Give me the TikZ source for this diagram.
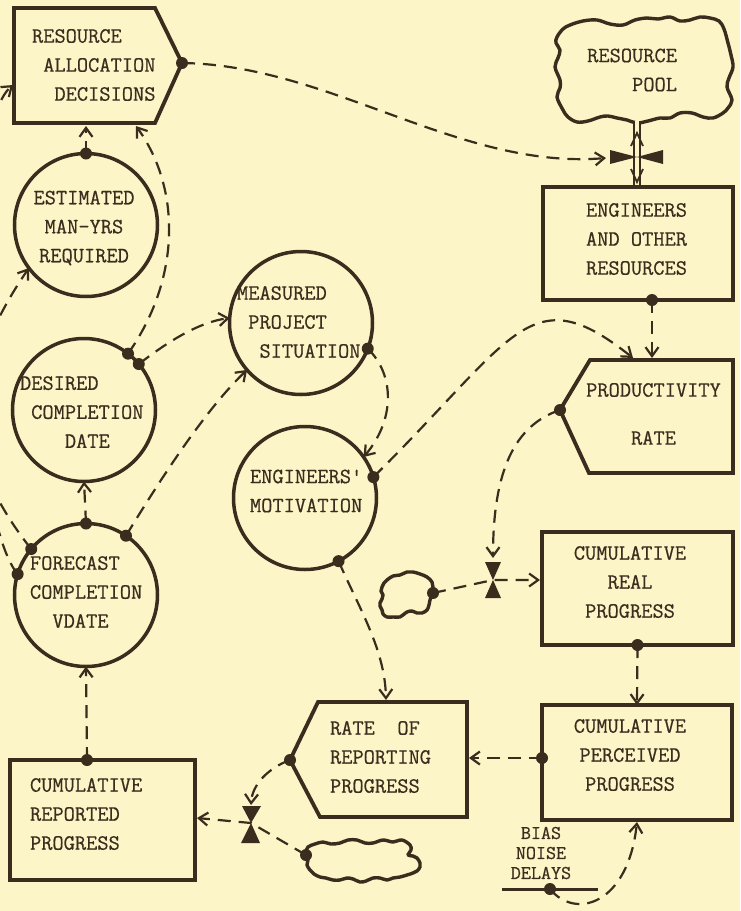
\documentclass[tikz,border=0pt]{standalone}
\usepackage{fontspec}
\newfontfamily\typew{Latin Modern Mono}[FakeBold=0.6]
\usetikzlibrary{arrows.meta,shapes.geometric}
\definecolor{bgc}{RGB}{252,245,199}
\definecolor{ink}{RGB}{58,45,30}
\tikzset{
  box/.style={draw=ink,line width=3.8pt,rectangle,inner sep=0pt,outer sep=0pt},
  circ/.style={draw=ink,line width=3.5pt,circle,minimum size=143pt,inner sep=0pt,outer sep=0pt},
  shapeline/.style={draw=ink,line width=3.8pt,line join=miter},
  lbl/.style={text=ink,inner sep=0pt,outer sep=0pt,font=\typew\fontsize{21.8}{29}\selectfont},
  link/.style={draw=ink,line width=2.2pt,dash pattern=on 13pt off 8pt,-{Straight Barb[length=9pt,width=13pt]}},
  cloudline/.style={draw=ink,line width=3.4pt,line join=round},
  pipe/.style={draw=ink,line width=2pt,double=bgc,double distance=4pt},
  barb/.style={draw=ink,line width=1.8pt},
}
\begin{document}
\begin{tikzpicture}[x=1pt,y=-1pt]
\useasboundingbox (0,0) rectangle (740,911);
\fill[bgc] (0,0) rectangle (740,911);
\begin{scope}
\clip (0,0) rectangle (740,911);
% named points
\coordinate (raP) at (182,63);
\coordinate (raB1) at (86,126);
\coordinate (raB2) at (136,126);
\coordinate (raL) at (13,85);
\coordinate (v1) at (637,157);
\coordinate (v1L) at (606,158);
\coordinate (pipeT) at (637,121);
\coordinate (pipeB) at (637,185);
\coordinate (engD) at (652,300);
\coordinate (prodT1) at (633,358);
\coordinate (prodT2) at (652,358);
\coordinate (prodP) at (560,410);
\coordinate (v2) at (493,580);
\coordinate (v2T) at (493,558);
\coordinate (src2D) at (433,593);
\coordinate (crealL) at (540,580);
\coordinate (cpercD) at (542,758);
\coordinate (cpercB) at (637,822);
\coordinate (rateR) at (469,758);
\coordinate (rateT) at (386,700);
\coordinate (rateP) at (290,760);
\coordinate (v3) at (251,823);
\coordinate (v3T) at (251,805);
\coordinate (src3D) at (306,855);
\coordinate (crepR) at (197,818);
\coordinate (crepD) at (87,760);
\coordinate (biasD) at (550,889);

% clouds
\draw[cloudline] plot[smooth cycle,tension=0.6] coordinates {
  (570,25) (583,21) (597,20) (610,24) (623,25) (635,20) (647,18) (658,19) (670,17)
  (680,21) (690,20) (700,17) (710,18) (719,21) (724,29) (728,43) (731,55) (733,67)
  (729,78) (727,87) (732,100) (728,108) (723,113) (713,118) (703,117) (692,113)
  (680,113) (670,118) (660,118) (648,121) (637,123) (627,120) (617,118) (608,116)
  (600,117) (588,121) (577,122) (568,117) (563,110) (557,97) (560,88) (560,80)
  (555,67) (558,58) (560,50) (556,43) (557,37) (563,29)};
\draw[cloudline] plot[smooth cycle,tension=0.6] coordinates {
  (387,580) (393,576) (400,575) (407,572) (413,572) (420,574) (427,577) (432,582)
  (433,587) (432,594) (430,600) (429,605) (427,610) (422,613) (417,613) (412,611)
  (407,612) (403,615) (400,617) (393,617) (387,617) (383,614) (382,610) (380,606)
  (380,603) (382,599) (383,595) (381,591) (382,587) (384,583)};
\draw[cloudline] plot[smooth cycle,tension=0.6] coordinates {
  (308,847) (315,844) (323,842) (331,844) (340,843) (348,840) (357,840) (365,843)
  (373,843) (383,840) (393,842) (402,840) (410,845) (411,850) (408,855) (413,856)
  (417,858) (420,863) (420,867) (417,871) (413,873) (407,875) (400,877) (393,878)
  (387,880) (380,878) (373,878) (366,881) (360,882) (353,879) (347,878) (340,880)
  (333,880) (326,878) (320,877) (314,874) (310,870) (307,865) (308,860) (306,853)};

% boxes
\node[box,minimum width=190pt,minimum height=113pt] (eng) at (638,243.5) {};
\node[box,minimum width=191pt,minimum height=113pt] (creal) at (637.5,588.5) {};
\node[box,minimum width=190pt,minimum height=115pt] (cperc) at (637,762.5) {};
\node[box,minimum width=185pt,minimum height=120pt] (crep) at (102.5,820) {};

% pentagon shapes
\draw[shapeline] (14,8) -- (155,8) -- (raP) -- (155,123) -- (14,123) -- cycle;
\draw[shapeline] (590,360) -- (733,360) -- (733,473) -- (589,473) -- (prodP) -- cycle;
\draw[shapeline] (318,702) -- (467,702) -- (467,817) -- (320,817) -- (rateP) -- cycle;

% circles
\node[circ] (est) at (86,225) {};
\node[circ] (des) at (84,410) {};
\node[circ] (fc) at (86,595) {};
\node[circ] (mps) at (301,323) {};
\node[circ] (mot) at (305,498) {};

% texts
\node[lbl,anchor=west,align=left] (raT) at (32,65) {RESOURCE\\~ALLOCATION\\~~DECISIONS};
\node[lbl,anchor=east,align=right] (poolT) at (677,70) {RESOURCE\\POOL};
\node[lbl,align=center] (engT) at (636.5,239) {ENGINEERS\\AND OTHER\\RESOURCES};
\node[lbl,align=center] (prodT) at (653.5,414) {PRODUCTIVITY\\[19pt]RATE};
\node[lbl,align=center] (crealT) at (630,582) {CUMULATIVE\\REAL\\PROGRESS};
\node[lbl,align=center] (cpercT) at (630,755) {CUMULATIVE\\PERCEIVED\\PROGRESS};
\node[lbl,anchor=west,align=left] (rateTx) at (330,757) {RATE~~OF\\REPORTING\\PROGRESS};
\node[lbl,anchor=west,align=left] (crepT) at (30,814) {CUMULATIVE\\REPORTED\\PROGRESS};
\node[lbl,align=center,font=\typew\fontsize{19.5}{20}\selectfont] (biasT) at (541,853) {BIAS\\NOISE\\DELAYS};
\node[lbl,align=center] (estT) at (84,228) {ESTIMATED\\MAN-YRS\\REQUIRED};
\node[lbl,anchor=west,align=left] (desT) at (20,412) {DESIRED\\~COMPLETION\\~~~~DATE};
\node[lbl,anchor=west,align=left] (fcT) at (30,592) {FORECAST\\COMPLETION\\~~VDATE};
\node[lbl,anchor=west,align=left] (mpsT) at (237,322) {MEASURED\\~PROJECT\\~~SITUATION};
\node[lbl,anchor=west,align=left] (motT) at (250,491) {ENGINEERS\textquotesingle\\MOTIVATION};

% pipe and valves
\draw[pipe] (pipeT) -- (pipeB);
\fill[ink] (610,150) -- (v1) -- (610,164) -- cycle;
\fill[ink] (663,150) -- (v1) -- (663,164) -- cycle;
\draw[barb] (631,146) -- (637,133) -- (643,146);
\draw[barb] (631,169) -- (637,182) -- (643,169);
\fill[ink] (485,562) -- (501,562) -- (v2) -- cycle;
\fill[ink] (485,598) -- (501,598) -- (v2) -- cycle;
\fill[ink] (242,806) -- (261,806) -- (v3) -- cycle;
\fill[ink] (241,843) -- (260,843) -- (v3) -- cycle;
\draw[ink,line width=3pt] (502,889) -- (598,889);

% connectors
\draw[link] (raP) .. controls (330,65) and (460,170) .. (v1L);
\draw[link] (engD) -- (prodT2);
\draw[link] (mot.17) .. controls (516,336) and (530,276) .. (prodT1);
\draw[link] (prodP) .. controls (515,425) and (493,470) .. (v2T);
\draw[link] (src2D) -- (v2) -- (crealL);
\draw[link] (creal.south) -- (cperc.north);
\draw[link] (cpercD) -- (rateR);
\draw[link] (mot.-62) .. controls (360,610) and (385,650) .. (rateT);
\draw[link] (rateP) .. controls (268,768) and (252,785) .. (v3T);
\draw[link] (src3D) -- (v3) -- (crepR);
\draw[link] (crepD) -- (fc.south);
\draw[link] (fc.north) -- (des.south);
\draw[link] (fc.56) .. controls (160,480) and (205,410) .. (mps.221);
\draw[link] (des.40) .. controls (170,340) and (200,322) .. (mps.176);
\draw[link] (des.52) .. controls (180,280) and (182,190) .. (raB2);
\draw[link] (est.north) -- (raB1);
\draw[link] (mps.-21) .. controls (395,375) and (395,420) .. (mot.35);
\draw[link] (biasD) .. controls (575,920) and (628,905) .. (cpercB);
\draw[link] (fc.140) .. controls (-44,454) and (-43,373) .. (est.217);
\draw[link] (fc.163) .. controls (-34,511) and (-40,130) .. (raL);

% dots
\foreach \p in {raP,engD,prodP,src2D,cpercD,rateP,src3D,crepD,biasD,est.north,des.52,des.40,fc.north,fc.56,fc.140,fc.163,mps.-21,mot.17,mot.-62,creal.south}
  \fill[ink] (\p) circle (6pt);
\end{scope}
\end{tikzpicture}
\end{document}
